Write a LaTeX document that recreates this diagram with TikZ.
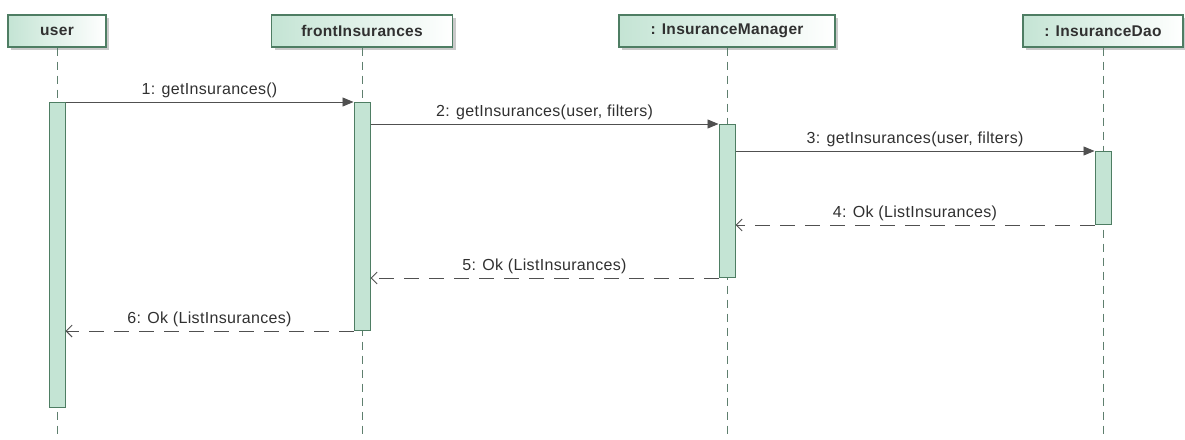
\documentclass[tikz,border=0pt]{standalone}
\usepackage{fontspec}
\setmainfont{Liberation Sans}[LetterSpace=2]
\usetikzlibrary{arrows.meta,shadows}
\definecolor{boxborder}{HTML}{4E7D63}
\definecolor{boxfill}{HTML}{C4E4D4}
\definecolor{lifeline}{HTML}{5E7F6E}
\definecolor{msg}{HTML}{505050}
\definecolor{txt}{HTML}{303030}
\begin{document}
\begin{tikzpicture}[x=1pt,y=-1pt,
  head/.style={draw=boxborder, line width=1.2pt, left color=boxfill, right color=white,
    minimum height=32pt, inner sep=0pt, font=\bfseries\fontsize{15.5}{18}\selectfont, text=txt,
    drop shadow={shadow xshift=3pt, shadow yshift=-3pt, fill=gray!70, opacity=0.6}},
  life/.style={draw=lifeline, line width=0.9pt, dash pattern=on 8pt off 6pt},
  act/.style={draw=boxborder, fill=boxfill, line width=1pt, minimum width=16pt, inner sep=0pt, anchor=north},
  call/.style={draw=msg, line width=0.9pt, -{Triangle[length=11pt,width=9pt]}},
  ret/.style={draw=msg, line width=0.9pt, dash pattern=on 15pt off 10pt, -{Straight Barb[length=6pt,width=12pt]}},
  lbl/.style={font=\fontsize{16}{19}\selectfont, text=txt, inner sep=0pt, above=4pt}
]
\useasboundingbox (0,0) rectangle (1185,439);
\coordinate (bot) at (0,435);

\node[head, minimum width=98pt] (user) at (57,31) {user};
\node[head, minimum width=181pt] (front) at (362,31) {frontInsurances};
\node[head, minimum width=216pt] (mgr) at (727,31) {: InsuranceManager};
\node[head, minimum width=160pt] (dao) at (1103,31) {: InsuranceDao};

\draw[life] (user.south) -- (user.south |- bot);
\draw[life] (front.south) -- (front.south |- bot);
\draw[life] (mgr.south) -- (mgr.south |- bot);
\draw[life] (dao.south) -- (dao.south |- bot);

\node[act, minimum height=305pt] (au) at (57,102) {};
\node[act, minimum height=228pt] (af) at (362,102) {};
\node[act, minimum height=153pt] (am) at (727,124) {};
\node[act, minimum height=73pt] (ad) at (1103,151) {};

\draw[call] (au.north east) -- node[lbl] {1: getInsurances()} (af.north west);
\draw[call] (af.east |- am.north) -- node[lbl] {2: getInsurances(user, filters)} (am.north west);
\draw[call] (am.east |- ad.north) -- node[lbl] {3: getInsurances(user, filters)} (ad.north west);
\draw[ret] (ad.south west) -- node[lbl] {4: Ok (ListInsurances)} (am.east |- ad.south);
\draw[ret] (am.south west) -- node[lbl] {5: Ok (ListInsurances)} (af.east |- am.south);
\draw[ret] (af.south west) -- node[lbl] {6: Ok (ListInsurances)} (au.east |- af.south);
\end{tikzpicture}
\end{document}
